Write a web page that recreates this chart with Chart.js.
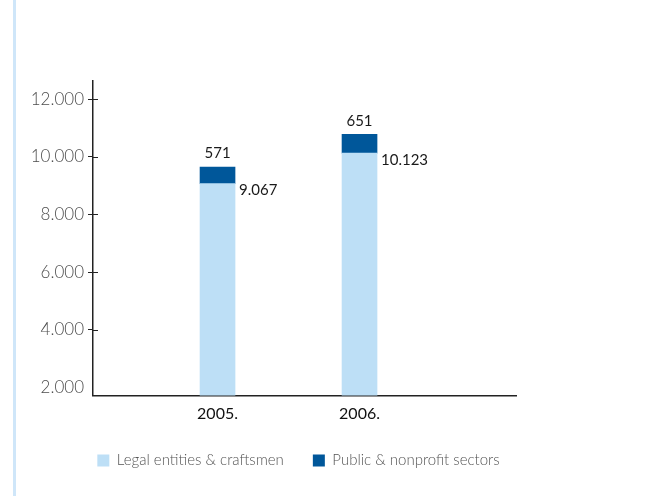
<!DOCTYPE html>
<html>
<head>
<meta charset="utf-8">
<script src="https://cdn.jsdelivr.net/npm/chart.js@4.4.1/dist/chart.umd.min.js"></script>
<style>
    html, body { margin: 0; padding: 0; background: #fff; }
    #wrap { position: relative; width: 656px; height: 496px; }
    .rule { position: absolute; left: 13px; top: 0; width: 3px; height: 496px; background: #cfe6f9; }
    canvas { position: absolute; left: 0; top: 0; }
</style>
</head>
<body>
<div id="wrap">
    <div class="rule"></div>
    <canvas id="loansChart" width="656" height="496"></canvas>
</div>
<script>
const years = ['2005.', '2006.'];
const legalEntities = [9067, 10123];
const publicSectors = [571, 651];
const yTicks = [2000, 4000, 6000, 8000, 10000, 12000];

const FONT = 'Lato';
const LIGHT = '#bddff6';
const DARK = '#00579a';

// 12000 -> "12.000"
function fmt(v) {
    return String(v).replace(/\B(?=(\d{3})+(?!\d))/g, '.');
}

// Values: lower segment to the right of the bar, upper segment above it
const valueLabels = {
    id: 'valueLabels',
    afterDatasetsDraw(chart) {
        const ctx = chart.ctx;
        const lower = chart.getDatasetMeta(0).data;
        const upper = chart.getDatasetMeta(1).data;
        ctx.save();
        ctx.font = '15px ' + FONT;
        ctx.fillStyle = '#1a1a1a';
        lower.forEach((bar, i) => {
            ctx.textAlign = 'left';
            ctx.textBaseline = 'middle';
            ctx.fillText(fmt(legalEntities[i]), bar.x + bar.width / 2 + 4, bar.y + 7);
        });
        upper.forEach((bar, i) => {
            ctx.textAlign = 'center';
            ctx.textBaseline = 'bottom';
            ctx.fillText(fmt(publicSectors[i]), bar.x, bar.y - 6);
        });
        ctx.restore();
    }
};

// y tick marks cross the axis: add the short part inside the plot
const innerTicks = {
    id: 'innerTicks',
    afterDraw(chart) {
        const y = chart.scales.y;
        const ctx = chart.ctx;
        ctx.save();
        ctx.strokeStyle = '#222';
        ctx.lineWidth = 1;
        yTicks.forEach(v => {
            if (v === 2000) return;
            const py = Math.round(y.getPixelForValue(v)) + 0.5;
            ctx.beginPath();
            ctx.moveTo(y.right, py);
            ctx.lineTo(y.right + 5, py);
            ctx.stroke();
        });
        ctx.restore();
    }
};

document.addEventListener('DOMContentLoaded', function() {
    const ctx = document.getElementById('loansChart');
    new Chart(ctx.getContext('2d'), {
        type: 'bar',
        data: {
            datasets: [{
                label: 'Legal entities & craftsmen',
                data: years.map((y, i) => ({ x: i, y: legalEntities[i] })),
                backgroundColor: LIGHT,
                borderWidth: 0
            }, {
                label: 'Public & nonprofit sectors',
                data: years.map((y, i) => ({ x: i, y: publicSectors[i] })),
                backgroundColor: DARK,
                borderWidth: 0
            }]
        },
        options: {
            responsive: false,
            animation: false,
            barThickness: 35,
            layout: { padding: { top: 81, right: 59, left: 0, bottom: 18 } },
            plugins: {
                tooltip: { enabled: false },
                legend: {
                    position: 'bottom',
                    align: 'center',
                    labels: {
                        boxWidth: 12,
                        boxHeight: 12,
                        padding: 29,
                        color: '#555',
                        font: { family: FONT, size: 15, weight: 300 }
                    }
                }
            },
            scales: {
                x: {
                    type: 'linear',
                    stacked: true,
                    offset: false,
                    min: -0.877,
                    max: 2.102,
                    afterBuildTicks: s => { s.ticks = years.map((y, i) => ({ value: i })); },
                    afterFit: s => { s.height = 28.5; },
                    grid: { display: false, drawTicks: false },
                    border: { color: '#222', width: 1.5 },
                    ticks: {
                        padding: 9,
                        color: '#111',
                        font: { family: FONT, size: 16 },
                        callback: v => years[v]
                    }
                },
                y: {
                    stacked: true,
                    min: 1720,
                    max: 12625,
                    afterBuildTicks: s => { s.ticks = yTicks.map(v => ({ value: v })); },
                    afterFit: s => { s.width = 93; },
                    grid: {
                        drawOnChartArea: false,
                        tickLength: 5,
                        tickColor: c => (c.tick && c.tick.value === 2000) ? 'rgba(0,0,0,0)' : '#222'
                    },
                    border: { color: '#222', width: 1.5 },
                    ticks: {
                        padding: 4,
                        color: '#4d4d4d',
                        font: { family: FONT, size: 17, weight: 300 },
                        callback: v => fmt(v)
                    }
                },
                // empty margin to the right of the plot
                spacer: {
                    type: 'linear',
                    position: 'right',
                    afterFit: s => { s.width = 81; },
                    grid: { display: false },
                    border: { display: false },
                    ticks: { display: false }
                }
            }
        },
        plugins: [valueLabels, innerTicks]
    });
});
</script>
</body>
</html>
